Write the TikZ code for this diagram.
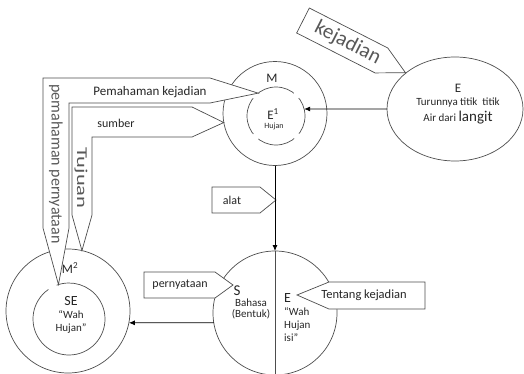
\documentclass[tikz,border=0pt]{standalone}
\usepackage{fontspec}
\setmainfont{Carlito}
\usepackage{graphicx}
\usetikzlibrary{shapes.geometric,arrows.meta,positioning,calc}
\definecolor{edge}{HTML}{4D4D4D}
\definecolor{art}{HTML}{595959}
\newcommand{\fsz}[2][]{\fontsize{#2}{#2}\selectfont}

\begin{document}
\begin{tikzpicture}[x=1pt, y=1pt,
    circ/.style={circle, draw=edge, line width=0.7pt, inner sep=0pt, outer sep=0pt},
    oval/.style={ellipse, draw=edge, line width=0.7pt, inner sep=0pt, outer sep=0pt},
    callout/.style={draw=edge, fill=white, line width=0.7pt, line join=miter},
    lbl/.style={inner sep=0pt, text=black!85},
    wordart/.style={inner sep=0pt, text=art},
    flow/.style={-{Latex[length=6pt,width=5pt]}, line width=0.8pt}
]
    \useasboundingbox (0,0) rectangle (524,373);

    % circles and ellipse
    \node[oval, minimum width=136pt, minimum height=104pt] (E) at (455,264) {};
    \node[circ, minimum size=104pt] (Mo) at (275,259.5) {};
    \node[circ, minimum size=58pt, dash pattern=on 38.6pt off 7pt, dash phase=19.3pt] (Mi) at (276,257) {};
    \node[circ, minimum size=124pt] (S) at (275,60) {};
    \draw[edge, line width=0.7pt] (S.north) -- (S.south);
    \node[circ, minimum size=124pt] (M2o) at (68,62) {};
    \node[circle, minimum size=72pt, inner sep=0pt, outer sep=0pt] (M2i) at (69,54) {};
    \draw[edge, line width=0.7pt] (M2i.125) arc[start angle=125, end angle=470, radius=36pt];

    % callouts
    \begin{scope}[shift={(303,352.5)}, rotate=-27]
        \draw[callout] (0,14) -- (88,14) -- (115,0) -- (88,-14) -- (0,-14) -- cycle;
        \node[wordart, rotate=-27, font=\fsz{21}] (kej) at (50,0) {kejadian};
    \end{scope}
    \draw[callout] (43,295) -- (210,295) -- (Mi.128) -- (210,270) -- (69,270) -- (69,145) -- (M2i.107) -- (43,145) -- cycle;
    \draw[callout] (72,266) -- (192,266) -- (Mo.190) -- (192,236) -- (92,236) -- (92,158) -- (M2o.77) -- (72,158) -- cycle;
    \draw[callout] (212,186) -- (260,186) -- (276,173) -- (260,160) -- (212,160) -- cycle;
    \draw[callout] (144,101) -- (215,101) -- (233,88) -- (215,75) -- (144,75) -- cycle;
    \draw[callout] (425,91) -- (329,91) -- (297,78) -- (329,64) -- (425,64) -- cycle;

    % callout texts
    \node[lbl, font=\fsz{13}] (pk) at (150,281) {Pemahaman kejadian};
    \node[lbl, font=\fsz{12}] (sb) at (116,250) {sumber};
    \node[wordart, rotate=-90, font=\fsz{16}] (pp) at (56,209) {pemahaman pernyataan};
    \node[wordart, rotate=-90, font=\fsz{15}] (tj) at (81,195) {\scalebox{1.5}[1]{Tujuan}};
    \node[lbl, font=\fsz{12}] (al) at (232,173) {alat};
    \node[lbl, font=\fsz{12}] (pn) at (180,88) {pernyataan};
    \node[lbl, font=\fsz{12.5}] (tk) at (364,78) {Tentang kejadian};

    % labels in the shapes
    \node[lbl, font=\fsz{13}] (Elab) at (458,285) {E};
    \node[lbl, font=\fsz{11}] (Ed1) at (458,270) {Turunnya titik~ titik};
    \node[lbl, font=\fsz{11}] (Ed2) at (458,255) {Air dari {\fsz{15}langit}};
    \node[lbl, font=\fsz{13}] (Mlab) at (272,295) {M};
    \node[lbl, font=\fsz{13}] (E1) at (273,259) {E\textsuperscript{1}};
    \node[lbl, font=\fsz{8}] (hj) at (274,247) {Hujan};
    \node[lbl, font=\fsz{15}] (Slab) at (237,82) {S};
    \node[lbl, font=\fontsize{11}{11}\selectfont, align=center] (bh) at (251,64) {Bahasa\\(Bentuk)};
    \node[lbl, font=\fsz{14}, anchor=west] (Eb) at (284,75) {E};
    \node[lbl, font=\fontsize{11}{13}\selectfont, align=left, anchor=west] (wh) at (284,48) {“Wah\\Hujan\\isi”};
    \node[lbl, font=\fsz{13}] (M2lab) at (70,105) {M\textsuperscript{2}};
    \node[lbl, font=\fsz{14}] (SE) at (71,72) {SE};
    \node[lbl, font=\fontsize{11}{13}\selectfont, align=center] (wh2) at (71,51) {“Wah\\Hujan”};

    % arrows
    \draw[flow] (E.west) -- (Mi.14);
    \draw[flow] (Mo.south) -- (S.north);
    \draw[flow] (S.189) -- (M2o.-11);
\end{tikzpicture}
\end{document}
